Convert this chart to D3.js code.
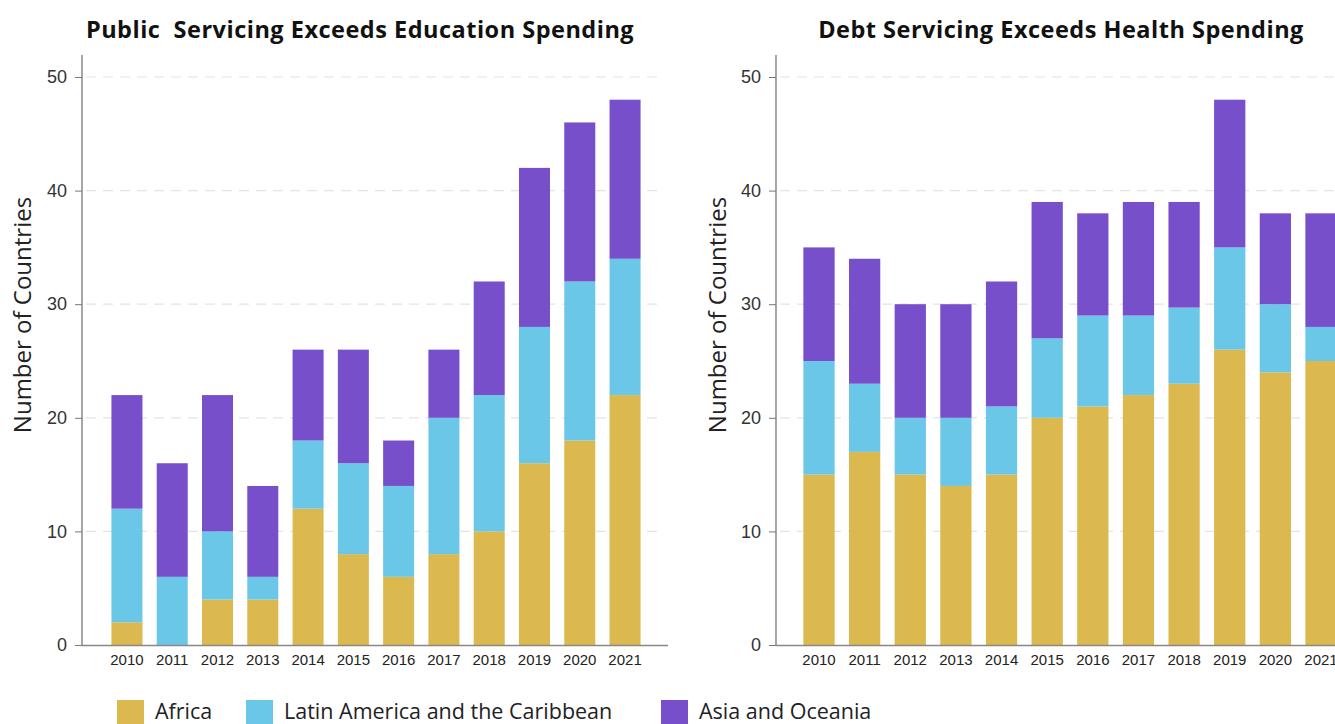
<!DOCTYPE html>
<html>
<head>
<meta charset="utf-8">
<script src="https://cdn.jsdelivr.net/npm/d3@7"></script>
<style>
  body { margin: 0; background: #fff; }
  svg { display: block; font-family: "Open Sans", "Noto Sans", sans-serif; }
  .title { font-weight: bold; font-size: 23.5px; letter-spacing: 0.5px; fill: #111; }
  .ytitle { font-size: 24px; fill: #222; }
  .yaxis text { font-size: 18px; fill: #333; }
  .xaxis text { font-size: 15px; fill: #222; }
  .legend text { font-size: 21.5px; fill: #222; }
</style>
</head>
<body>
<svg id="chart" width="1335" height="724"></svg>
<script>
var years = ["2010", "2011", "2012", "2013", "2014", "2015", "2016", "2017", "2018", "2019", "2020", "2021"];
var regions = ["Africa", "Latin America and the Caribbean", "Asia and Oceania"];
var colors = ["#dcb94e", "#6bc7e8", "#774fca"];
var yTicks = [0, 10, 20, 30, 40, 50];

// left panel: education
var eduAfrica = [2, 0, 4, 4, 12, 8, 6, 8, 10, 16, 18, 22];
var eduLatam  = [10, 6, 6, 2, 6, 8, 8, 12, 12, 12, 14, 12];
var eduAsia   = [10, 10, 12, 8, 8, 10, 4, 6, 10, 14, 14, 14];

// right panel: health
var healthAfrica = [15, 17, 15, 14, 15, 20, 21, 22, 23, 26, 24, 25];
var healthLatam  = [10, 6, 5, 6, 6, 7, 8, 7, 6.7, 9, 6, 3];
var healthAsia   = [10, 11, 10, 10, 11, 12, 9, 10, 9.3, 13, 8, 10];

var svg = d3.select("#chart");

function build_rows(a, b, c) {
    var rows = [];
    for (var i = 0; i < years.length; i++) {
        var r = {year: years[i]};
        r[regions[0]] = a[i];
        r[regions[1]] = b[i];
        r[regions[2]] = c[i];
        rows.push(r);
    }
    return rows;
}

function draw_panel(opts) {
    var g = svg.append("g");
    var y = d3.scaleLinear().domain([0, 50]).range([645, 77]);
    var x = d3.scaleBand().domain(years)
        .range([opts.left, opts.right])
        .paddingInner(0.315)
        .paddingOuter(opts.outer);

    // gridlines
    g.append("g").selectAll("line")
        .data(yTicks.slice(1))
        .enter().append("line")
        .attr("x1", opts.left + 4)
        .attr("x2", opts.gridEnd)
        .attr("y1", function(d) { return y(d); })
        .attr("y2", function(d) { return y(d); })
        .attr("stroke", "#e4e4e4")
        .attr("stroke-width", 1.2)
        .attr("stroke-dasharray", "10,7");

    var stacked = d3.stack().keys(regions)(build_rows(opts.a, opts.b, opts.c));

    g.append("g").selectAll("g")
        .data(stacked)
        .enter().append("g")
        .attr("fill", function(d, i) { return colors[i]; })
        .selectAll("rect")
        .data(function(d) { return d; })
        .enter().append("rect")
        .attr("x", function(d) { return x(d.data.year); })
        .attr("width", x.bandwidth())
        .attr("y", function(d) { return y(d[1]); })
        .attr("height", function(d) { return y(d[0]) - y(d[1]); });

    // y axis
    var yAxis = g.append("g")
        .attr("class", "yaxis")
        .attr("transform", "translate(" + opts.left + ",0)")
        .call(d3.axisLeft(y).tickValues(yTicks).tickSize(7).tickPadding(8));
    yAxis.select(".domain").remove();
    yAxis.selectAll(".tick line").attr("stroke", "#777");
    g.append("line")
        .attr("x1", opts.left).attr("x2", opts.left)
        .attr("y1", 55).attr("y2", 645)
        .attr("stroke", "#777").attr("stroke-width", 1.3);

    // baseline
    g.append("line")
        .attr("x1", opts.left).attr("x2", opts.gridEnd + 5)
        .attr("y1", 645.5).attr("y2", 645.5)
        .attr("stroke", "#888").attr("stroke-width", 1.3);

    // x axis labels
    var xAxis = g.append("g")
        .attr("class", "xaxis")
        .attr("transform", "translate(0,645)")
        .call(d3.axisBottom(x).tickSize(0).tickPadding(9));
    xAxis.select(".domain").remove();

    g.append("text")
        .attr("class", "ytitle")
        .attr("transform", "translate(" + opts.titleX + ",315) rotate(-90)")
        .attr("text-anchor", "middle")
        .text("Number of Countries");

    g.append("text")
        .attr("class", "title")
        .attr("x", opts.headX)
        .attr("y", 38)
        .attr("text-anchor", "middle")
        .attr("xml:space", "preserve")
        .style("white-space", "pre")
        .text(opts.title);
}

draw_panel({
    left: 82, right: 670, outer: 0.65, gridEnd: 663,
    a: eduAfrica, b: eduLatam, c: eduAsia,
    titleX: 31, headX: 360,
    title: "Public  Servicing Exceeds Education Spending"
});

draw_panel({
    left: 776, right: 1364, outer: 0.6, gridEnd: 1340,
    a: healthAfrica, b: healthLatam, c: healthAsia,
    titleX: 726, headX: 1061,
    title: "Debt Servicing Exceeds Health Spending"
});

// legend
var legendX = [117, 246, 661];
var legend = svg.append("g").attr("class", "legend")
    .selectAll("g")
    .data(regions)
    .enter().append("g")
    .attr("transform", function(d, i) { return "translate(" + legendX[i] + ",700)"; });
legend.append("rect")
    .attr("width", 27).attr("height", 26)
    .attr("fill", function(d, i) { return colors[i]; });
legend.append("text")
    .attr("x", 38).attr("y", 19)
    .text(function(d) { return d; });
</script>
</body>
</html>
